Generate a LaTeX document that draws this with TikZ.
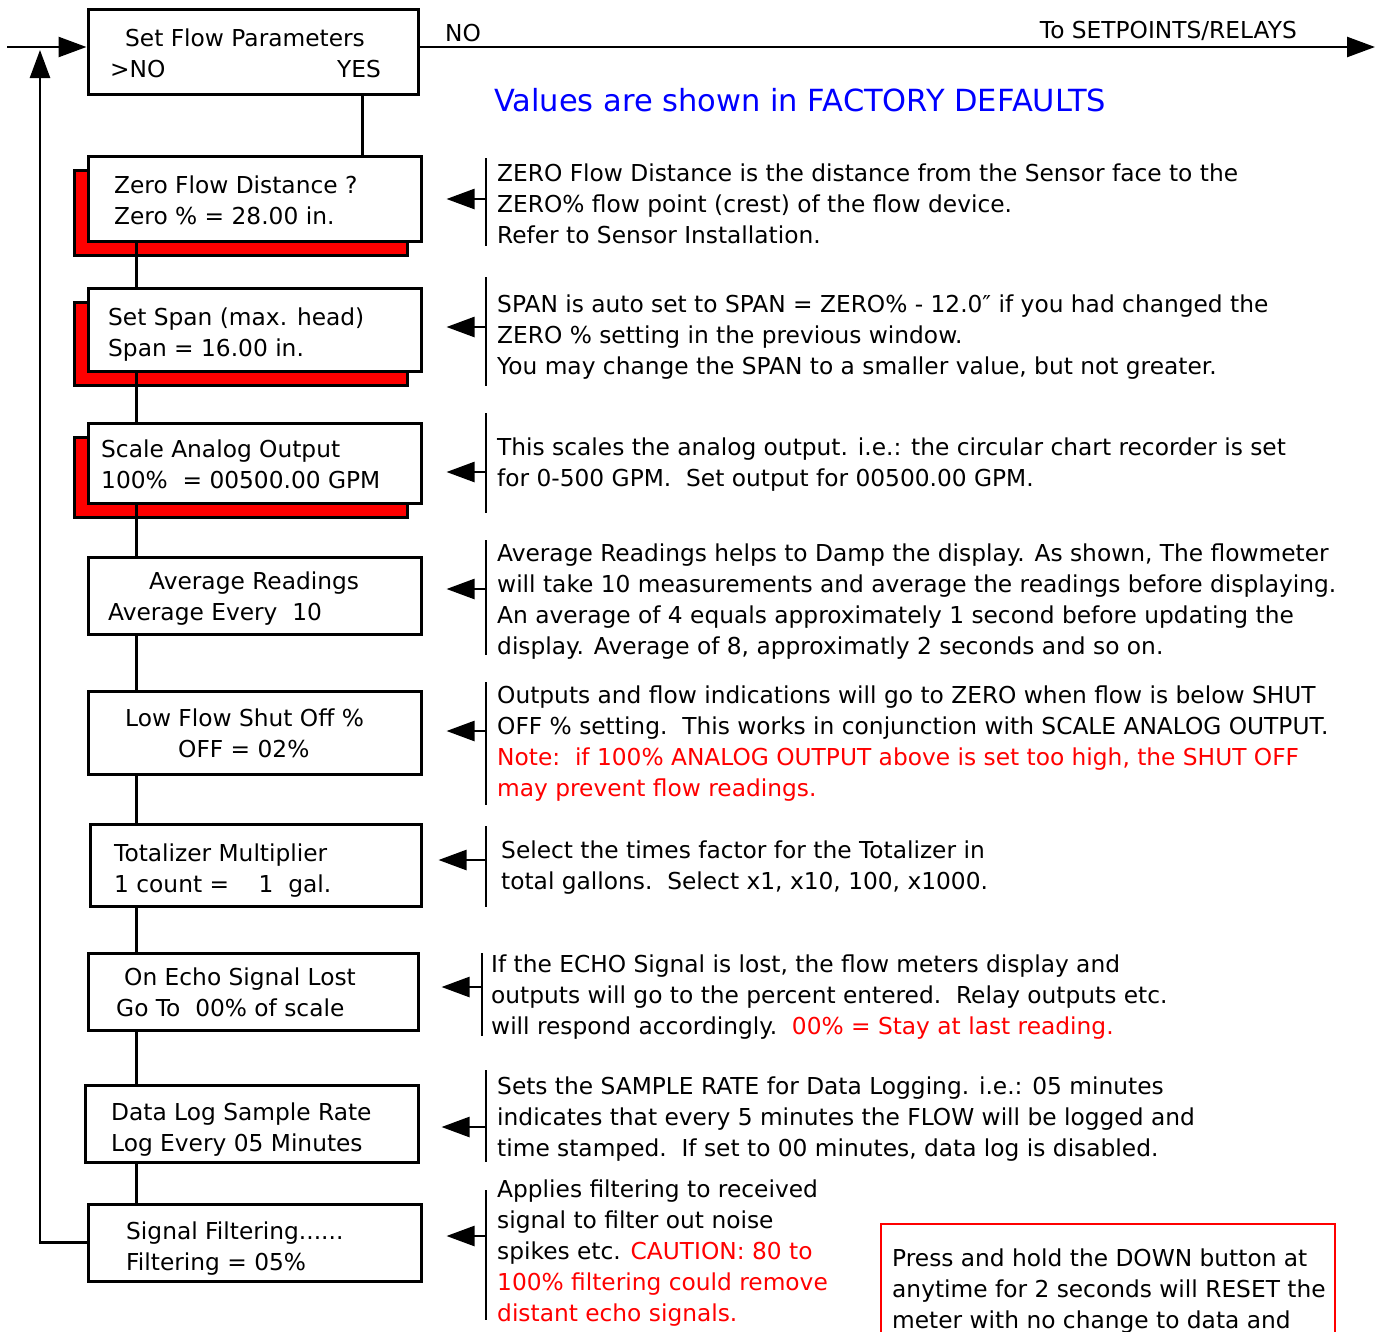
\documentclass[tikz,border=0pt]{standalone}
\usepackage{fontspec}
\setmainfont{DejaVu Sans}
\usetikzlibrary{arrows.meta,shadows}

\definecolor{alertred}{RGB}{255,0,0}
\definecolor{titleblue}{RGB}{0,0,255}

\tikzset{
  menubox/.style={draw, line width=3pt, fill=white, inner sep=0pt},
  redbox/.style={menubox, drop shadow={shadow xshift=-14pt, shadow yshift=-14pt,
      fill=alertred, draw=black, line width=3pt, opacity=1}},
  boxtext/.style={anchor=base west, align=left, inner sep=0pt},
  link/.style={line width=3pt},
  bar/.style={line width=2.5pt},
  fwd/.style={line width=2.5pt, -{Triangle[length=28pt, width=20pt]}},
}

\begin{document}
\begin{tikzpicture}[x=1pt, y=-1pt, font=\fontsize{23.3}{31}\selectfont]
  \clip (0,0) rectangle (1379,1331);

  % menu windows
  \node[menubox, minimum width=330pt, minimum height=85pt] (topbox) at (253,51.5) {};
  \node[redbox, minimum width=333pt, minimum height=85pt] (zero) at (254.5,198.5) {};
  \node[redbox, minimum width=333pt, minimum height=83pt] (span) at (254.5,329.5) {};
  \node[redbox, minimum width=333pt, minimum height=80pt] (scale) at (254.5,463) {};
  \node[menubox, minimum width=333pt, minimum height=77pt] (avg) at (254.5,595.5) {};
  \node[menubox, minimum width=333pt, minimum height=83pt] (low) at (254.5,732.5) {};
  \node[menubox, minimum width=331pt, minimum height=82pt] (tot) at (255.5,865) {};
  \node[menubox, minimum width=330pt, minimum height=77pt] (echo) at (253,991.5) {};
  \node[menubox, minimum width=333pt, minimum height=77pt] (log) at (251.5,1123.5) {};
  \node[menubox, minimum width=333pt, minimum height=77pt] (filt) at (254.5,1242.5) {};

  % window texts (base = last line)
  \node[boxtext] (toptxt) at (125,46) {Set Flow Parameters};
  \node[boxtext] (topno) at (110,77) {>NO};
  \node[boxtext, anchor=base east] (yes) at (381,77) {YES};
  \node[boxtext] (zerotxt) at (114,224) {Zero Flow Distance ?\\Zero \% = 28.00 in.};
  \node[boxtext] (spantxt) at (108,356) {Set Span (max. head)\\Span = 16.00 in.};
  \node[boxtext] (scaletxt) at (101,488) {Scale Analog Output\\100\%\ \ = 00500.00 GPM};
  \node[boxtext] (avgtxt) at (149,589) {Average Readings};
  \node[boxtext] (avgval) at (108,620) {Average Every\ \ 10};
  \node[boxtext] (lowtxt) at (125,726) {Low Flow Shut Off \%};
  \node[boxtext] (lowval) at (178,757) {OFF = 02\%};
  \node[boxtext] (tottxt) at (114,892) {Totalizer Multiplier\\1 count =\ \ \ \ 1\ \ gal.};
  \node[boxtext] (echotxt) at (124,985) {On Echo Signal Lost};
  \node[boxtext] (echoval) at (116,1016) {Go To\ \ 00\% of scale};
  \node[boxtext] (logtxt) at (111,1151) {Data Log Sample Rate\\Log Every 05 Minutes};
  \node[boxtext] (filttxt) at (126,1270) {Signal Filtering......\\Filtering = 05\%};

  % flow between windows
  \coordinate (spine) at (136,0);
  \draw[link] ([xshift=109pt]topbox.south) -- ([xshift=107.5pt]zero.north);
  \draw[link] (zero.south -| spine) -- (span.north -| spine);
  \draw[link] (span.south -| spine) -- (scale.north -| spine);
  \draw[link] (scale.south -| spine) -- (avg.north -| spine);
  \draw[link] (avg.south -| spine) -- (low.north -| spine);
  \draw[link] (low.south -| spine) -- (tot.north -| spine);
  \draw[link] (tot.south -| spine) -- (echo.north -| spine);
  \draw[link] (echo.south -| spine) -- (log.north -| spine);
  \draw[link] (log.south -| spine) -- (filt.north -| spine);

  % entry, exit and loop back
  \coordinate (entry) at (7,47);
  \coordinate (setpts) at (1375,47);
  \coordinate (loop) at (40,50);
  \draw[fwd] (entry) -- (entry -| topbox.west);
  \draw[fwd] (topbox.east |- setpts) -- (setpts);
  \draw[fwd] (filt.west) -| (loop);
  \node[boxtext] (no) at (445,41) {NO};
  \node[boxtext, anchor=base east] (exit) at (1297,38) {To SETPOINTS/RELAYS};

  \node[boxtext, text=titleblue, font=\fontsize{30.5}{36}\selectfont] (title) at (494,111)
    {Values are shown in FACTORY DEFAULTS};

  % notes
  \node[boxtext] (d1) at (497,243) {ZERO Flow Distance is the distance from the Sensor face to the\\ZERO\% flow point (crest) of the flow device.\\Refer to Sensor Installation.};
  \node[boxtext] (d2) at (497,374) {SPAN is auto set to SPAN = ZERO\% - 12.0″ if you had changed the\\ZERO \% setting in the previous window.\\You may change the SPAN to a smaller value, but not greater.};
  \node[boxtext] (d3) at (497,486) {This scales the analog output. i.e.: the circular chart recorder is set\\for 0-500 GPM.\ \ Set output for 00500.00 GPM.};
  \node[boxtext] (d4) at (497,654) {Average Readings helps to Damp the display. As shown, The flowmeter\\will take 10 measurements and average the readings before displaying.\\An average of 4 equals approximately 1 second before updating the\\display. Average of 8, approximatly 2 seconds and so on.};
  \node[boxtext] (d5) at (497,796) {Outputs and flow indications will go to ZERO when flow is below SHUT\\OFF \% setting.\ \ This works in conjunction with SCALE ANALOG OUTPUT.\\\textcolor{alertred}{Note:\ \ if 100\% ANALOG OUTPUT above is set too high, the SHUT OFF}\\\textcolor{alertred}{may prevent flow readings.}};
  \node[boxtext] (d6) at (501,889) {Select the times factor for the Totalizer in\\total gallons.\ \ Select x1, x10, 100, x1000.};
  \node[boxtext] (d7) at (491,1034) {If the ECHO Signal is lost, the flow meters display and\\outputs will go to the percent entered.\ \ Relay outputs etc.\\will respond accordingly.\ \ \textcolor{alertred}{00\% = Stay at last reading.}};
  \node[boxtext] (d8) at (497,1156) {Sets the SAMPLE RATE for Data Logging. i.e.: 05 minutes\\indicates that every 5 minutes the FLOW will be logged and\\time stamped.\ \ If set to 00 minutes, data log is disabled.};
  \node[boxtext] (d9) at (497,1321) {Applies filtering to received\\signal to filter out noise\\spikes etc. \textcolor{alertred}{CAUTION: 80 to}\\\textcolor{alertred}{100\% filtering could remove}\\\textcolor{alertred}{distant echo signals.}};

  % note bars and pointers
  \coordinate (b1) at (486,199);
  \coordinate (b2) at (486,327);
  \coordinate (b3) at (486,472);
  \coordinate (b4) at (486,589);
  \coordinate (b5) at (486,731);
  \coordinate (b6) at (486,860);
  \coordinate (b7) at (482,987);
  \coordinate (b8) at (486,1127);
  \coordinate (b9) at (486,1236);
  \draw[bar] (486,158) -- (486,246);
  \draw[bar] (486,277) -- (486,386);
  \draw[bar] (486,413) -- (486,513);
  \draw[bar] (486,540) -- (486,655);
  \draw[bar] (486,682) -- (486,805);
  \draw[bar] (486,826) -- (486,907);
  \draw[bar] (482,953) -- (482,1036);
  \draw[bar] (486,1070) -- (486,1162);
  \draw[bar] (486,1190) -- (486,1320);
  \draw[fwd] (b1) -- ([xshift=24pt]zero.east |- b1);
  \draw[fwd] (b2) -- ([xshift=24pt]span.east |- b2);
  \draw[fwd] (b3) -- ([xshift=24pt]scale.east |- b3);
  \draw[fwd] (b4) -- ([xshift=24pt]avg.east |- b4);
  \draw[fwd] (b5) -- ([xshift=24pt]low.east |- b5);
  \draw[fwd] (b6) -- ([xshift=16pt]tot.east |- b6);
  \draw[fwd] (b7) -- ([xshift=22pt]echo.east |- b7);
  \draw[fwd] (b8) -- ([xshift=22pt]log.east |- b8);
  \draw[fwd] (b9) -- ([xshift=24pt]filt.east |- b9);

  % reset note
  \draw[alertred, line width=2.5pt] (881,1224) rectangle (1335,1360);
  \node[boxtext] (reset) at (892,1328) {Press and hold the DOWN button at\\anytime for 2 seconds will RESET the\\meter with no change to data and};
\end{tikzpicture}
\end{document}
